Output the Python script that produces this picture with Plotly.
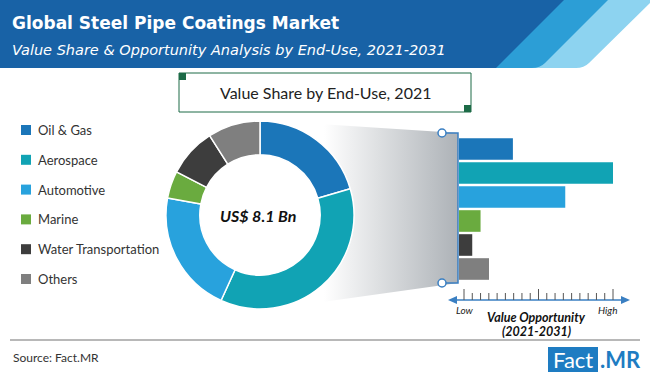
import plotly.graph_objects as go

W, H = 650, 374

# ---------------- data ----------------
categories = ["Oil & Gas", "Aerospace", "Automotive", "Marine", "Water Transportation", "Others"]
value_share_2021 = [20.5, 36.3, 21.1, 4.7, 8.4, 9.0]          # % share, 2021
opportunity_index = [35, 100, 69, 14, 8.6, 19.5]              # relative value opportunity (High = 100)
colors = ["#1b76b9", "#11a3b4", "#28a2dd", "#6aab3f", "#3d3d3d", "#7f7f7f"]
market_size_label = "US$ 8.1 Bn"
scale_labels = ["Low", "High"]
title = "Global Steel Pipe Coatings Market"
subtitle = "Value Share & Opportunity Analysis by End-Use, 2021-2031"
box_title = "Value Share by End-Use, 2021"
axis_title = ["Value Opportunity", "(2021-2031)"]
source = "Source: Fact.MR"

FONT = "Lato"
HFONT = "DejaVu Sans"
BLUE = "#3a7fc2"
GREEN = "#1d6b47"


def px(x):
    return x / W


def py(y):
    return 1 - y / H


fig = go.Figure()

# gradient wedge linking donut to bars (pixel-space helper axes x2/y2)
fig.add_trace(go.Scatter(
    x=[258, 458, 458, 258], y=[120, 133, 283, 311],
    xaxis="x2", yaxis="y2", mode="lines", line=dict(width=0),
    fill="toself",
    fillgradient=dict(type="horizontal",
                      colorscale=[[0, "#ffffff"], [0.33, "#ffffff"], [1, "#adb2b7"]]),
    hoverinfo="skip", showlegend=False))

# donut
cx, cy, r = 260, 215, 94
fig.add_trace(go.Pie(
    labels=categories, values=value_share_2021, marker=dict(colors=colors, line=dict(color="white", width=1.5)),
    hole=0.64, sort=False, direction="clockwise", rotation=0, textinfo="none",
    domain=dict(x=[px(cx - r), px(cx + r)], y=[py(cy + r), py(cy - r)]),
    showlegend=False, hoverinfo="label+percent"))

# bars
fig.add_trace(go.Bar(
    y=categories, x=opportunity_index, orientation="h",
    marker=dict(color=colors, line=dict(width=0)),
    xaxis="x", yaxis="y", showlegend=False, hoverinfo="y+x"))

shapes = []
ann = []


def rect(x0, y0, x1, y1, **kw):
    d = dict(type="rect", xref="x2", yref="y2", x0=x0, y0=y0, x1=x1, y1=y1)
    d.update(kw)
    shapes.append(d)


def path(p, **kw):
    d = dict(type="path", xref="x2", yref="y2", path=p)
    d.update(kw)
    shapes.append(d)


def text(x, y, s, size, color="#222", xanchor="left", family=FONT, **kw):
    ann.append(dict(xref="x2", yref="y2", x=x, y=y, text=s, showarrow=False,
                    xanchor=xanchor, yanchor="middle",
                    font=dict(family=family, size=size, color=color), **kw))


# header band
path("M0,0 L653,0 L589,63 Q584,68 576,68 L0,68 Z", fillcolor="#8dd3f0", line=dict(width=0))
path("M0,0 L608,0 L545,63 Q540,68 532,68 L0,68 Z", fillcolor="#2c9ed6", line=dict(width=0))
path("M0,0 L564,0 L496,68 L0,68 Z", fillcolor="#1862a6", line=dict(width=0))
text(10, 23, "<b>" + title + "</b>", 17, "white", family=HFONT)
text(10, 50, "<i>" + subtitle + "</i>", 14.5, "white", family=HFONT)

# box title
rect(179, 73, 471, 112, line=dict(color=GREEN, width=1), fillcolor="rgba(0,0,0,0)")
rect(179, 73, 186, 80, line=dict(width=0), fillcolor=GREEN)
rect(464, 105, 471, 112, line=dict(width=0), fillcolor=GREEN)
text(325, 92, box_title, 16, "#222", xanchor="center")

# legend
for i, (c, col) in enumerate(zip(categories, colors)):
    yy = 130 + i * 29.8
    rect(21, yy - 5, 31, yy + 5, line=dict(width=0), fillcolor=col)
    text(36, yy, c, 13, "#333")

# donut centre
text(cx - 2, cy, "<b><i>" + market_size_label + "</i></b>", 16, "#111", xanchor="center")

# bracket
path("M442,133 L458,133 L458,283 L442,283", line=dict(color=BLUE, width=1.5))
for yy in (133, 283):
    shapes.append(dict(type="circle", xref="x2", yref="y2", x0=438, x1=446, y0=yy - 4, y1=yy + 4,
                       line=dict(color=BLUE, width=1.5), fillcolor="white"))

# value-opportunity scale
shapes.append(dict(type="line", xref="x2", yref="y2", x0=452, x1=626, y0=300, y1=300,
                   line=dict(color=BLUE, width=1.5)))
path("M448,300 L457,296 L457,304 Z", fillcolor=BLUE, line=dict(width=0))
path("M630,300 L621,296 L621,304 Z", fillcolor=BLUE, line=dict(width=0))
n_ticks = 19
for k in range(n_ticks):
    x = 464 + k * 149 / (n_ticks - 1)
    top = 289 if k in (0, 9, 18) else 293
    shapes.append(dict(type="line", xref="x2", yref="y2", x0=x, x1=x, y0=top, y1=300,
                       line=dict(color="#555", width=1)))
text(465, 310, "<i>" + scale_labels[0] + "</i>", 10, "#222", xanchor="center")
text(607, 310, "<i>" + scale_labels[1] + "</i>", 10, "#222", xanchor="center")
text(536, 317, "<b><i>" + axis_title[0] + "</i></b>", 12.5, "#111", xanchor="center")
text(536, 331, "<b><i>" + axis_title[1] + "</i></b>", 12.5, "#111", xanchor="center")

# footer
shapes.append(dict(type="line", xref="x2", yref="y2", x0=10, x1=640, y0=340, y1=340,
                   line=dict(color="#a0a0a0", width=1.5)))
text(11, 357, source, 12, "#333")
rect(548, 347, 598, 372, line=dict(width=0), fillcolor="#1e7cc2")
text(573, 359, "Fact", 22, "white", xanchor="center")
text(598, 359, "<b>.MR</b>", 22, "#1e7cc2")

fig.update_layout(
    width=W, height=H, margin=dict(l=0, r=0, t=0, b=0),
    paper_bgcolor="white", plot_bgcolor="rgba(0,0,0,0)",
    bargap=0.1,
    xaxis=dict(domain=[px(459), px(613)], range=[0, 100], visible=False, fixedrange=True),
    yaxis=dict(domain=[py(281), py(137)], categoryorder="array", categoryarray=categories,
               autorange="reversed", visible=False, fixedrange=True),
    xaxis2=dict(domain=[0, 1], range=[0, W], visible=False, anchor="y2", fixedrange=True),
    yaxis2=dict(domain=[0, 1], range=[H, 0], visible=False, anchor="x2", fixedrange=True),
    shapes=shapes, annotations=ann,
    font=dict(family=FONT),
)

fig.write_html("out.html", config=dict(displayModeBar=False),
               post_script="document.body.style.margin='0';document.body.style.padding='0';"
                           "document.body.style.overflow='hidden';")
